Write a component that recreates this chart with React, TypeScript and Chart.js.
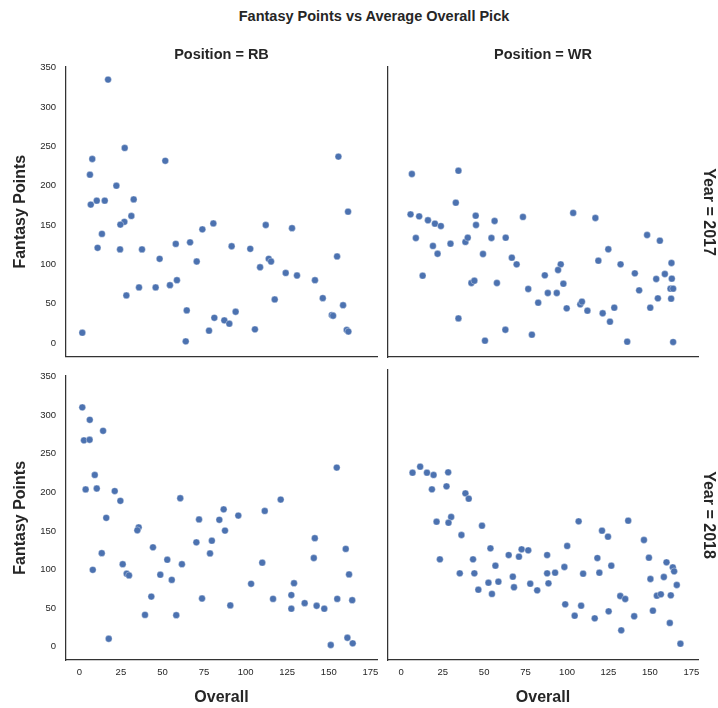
import React, { useEffect, useRef } from 'react';
import { Chart, registerables } from 'chart.js';

Chart.register(...registerables);
Chart.defaults.font.family = "'Liberation Sans', Arial, sans-serif";

// ---------- data ----------
const X_TICKS = [0, 25, 50, 75, 100, 125, 150, 175];
const Y_TICKS = [0, 50, 100, 150, 200, 250, 300, 350];

const RB_2017_OVERALL = [17.3, 27.3, 7.8, 51.7, 6.4, 22.3, 6.9, 10.5, 15.3, 32.7, 31.3, 27.1, 24.7, 80.6, 74, 13.6, 58, 66.6, 11, 24.5, 37.7, 48.3, 70.6, 58.7, 35.9, 45.9, 54.5, 28.3, 64.6, 81.2, 78, 1.8, 64,
  155.8, 161.6, 112.1, 127.9, 91.6, 102.8, 113.9, 115.3, 108.7, 155, 124.1, 130.9, 141.7, 117.5, 146.4, 158.6, 94, 87.2, 90.2, 151.8, 152.6, 105.6, 160.8, 161.8];
const RB_2017_POINTS = [335, 248, 234, 231.7, 214, 200, 176, 181, 181, 182.6, 161.5, 154, 150.5, 152, 144.5, 138.7, 126, 128, 121, 119, 119, 107, 103.6, 79.8, 70.6, 70.6, 73.5, 60.4, 41.4, 32, 15.6, 13, 2,
  237, 167, 150, 146, 123, 119.7, 107, 103.6, 96.3, 110, 89, 85.8, 79.8, 55.3, 57, 48, 39.7, 28.7, 24.5, 35.4, 34.6, 17.3, 16.5, 14.5];

const WR_2017_OVERALL = [6.4, 34.5, 32.9, 5.6, 10.8, 16.1, 20.3, 23.9, 44.9, 45.1, 56.3, 73.4, 8.8, 19.1, 21.9, 29.7, 38.7, 40.1, 54.4, 63, 49.3, 66.7, 69.6, 12.9, 42.3, 44.1, 57.7, 76.6, 82.6, 34.5, 62.8, 78.8, 50.5,
  103.7, 117.1, 148.3, 156, 124.9, 118.9, 132.3, 96.2, 94.6, 86.6, 97.8, 88.4, 93.8, 99.8, 108, 109, 112.3, 121.5, 125.9, 128.5, 140.9, 143.5, 153.8, 159, 163, 163.2, 162.4, 164, 154.8, 162.8, 150.2, 136.3, 164];
const WR_2017_POINTS = [215.2, 219.4, 178.8, 164, 161.5, 156.5, 152.2, 149.2, 162.3, 150.5, 155.6, 160.7, 134, 123.9, 114, 126.8, 129, 134.4, 134, 134.4, 113.7, 109, 100.6, 86.2, 76.9, 79.8, 76.9, 69.3, 51.9, 32, 17.6, 11.3, 3.7,
  165.8, 159.4, 137.8, 130.6, 119.7, 105.2, 100.6, 100.6, 93.4, 86.7, 76, 64.2, 64.2, 44.8, 49.9, 53.2, 41.8, 38.5, 27.8, 45.6, 89.2, 67.6, 82, 88.3, 102.3, 82.4, 69.7, 69.7, 57.5, 57, 45.6, 2.4, 2];

const RB_2018_OVERALL = [1.8, 6.3, 14.3, 2.8, 6.2, 9.3, 3.8, 10.5, 21.3, 24.7, 60.7, 16.2, 35.7, 34.9, 72, 84.2, 70.4, 79.7, 78.6, 44.3, 13.5, 52.9, 61.7, 26.1, 8.1, 28.5, 29.9, 48.7, 55.6, 43.3, 73.8, 39.5, 58.3, 17.7,
  86.8, 87.6, 95.6, 111.5, 121.1, 154.8, 141.6, 160.2, 141, 110, 162.2, 103.3, 129.1, 127.5, 90.8, 116.5, 127.5, 135.5, 142.7, 147.3, 155.1, 164.1, 161.2, 151.2, 164.4];
const RB_2018_POINTS = [310, 293.9, 279.6, 267.3, 268.1, 222.5, 203.8, 205, 201.7, 189, 192.4, 167, 154.7, 150.9, 164.9, 164.5, 135.3, 137.4, 120.9, 128.9, 121.3, 112.8, 107, 107, 99.7, 94.7, 92.5, 93.4, 86.7, 65.1, 62.6, 41.4, 41, 10.5,
  178, 150.5, 170, 175.9, 190.7, 232.1, 140.7, 126.8, 115, 109, 93.8, 81.6, 82.4, 67.1, 53.7, 62.1, 49.4, 56.6, 53.2, 49.4, 62.1, 60.4, 11.8, 2.4, 4.6];

const WR_2018_OVERALL = [6.8, 11.4, 15.5, 19.5, 28.3, 18.5, 27.3, 38.7, 40.7, 30.1, 21.3, 28.5, 48.7, 36.3, 53.8, 64.8, 72.6, 76.6, 71, 23.3, 43.3, 56.8, 35.3, 44.1, 67.3, 52.6, 58.6, 68, 77.8, 46.5, 54.7, 82,
  107, 136.9, 121.1, 124.7, 146.4, 100.1, 88, 118.3, 149.4, 160, 163.8, 164.6, 98.4, 126.7, 88, 92.8, 109.7, 119.5, 150.3, 158.4, 166.2, 88.8, 132.1, 135.1, 154.2, 156.6, 162.6, 98.9, 108.5, 104.6, 116.7, 125.1, 140.5, 151.8, 132.7, 162, 168.4];
const WR_2018_POINTS = [220.7, 228.3, 220.7, 217.8, 221.2, 199.6, 203.4, 194.5, 187.7, 164.5, 158.5, 157.2, 153.4, 141.6, 124.7, 116.2, 123.5, 122.2, 114.1, 110.8, 110.8, 102.7, 93, 93, 88.7, 81.1, 82.4, 75.3, 79.8, 72.2, 66.8, 71.4,
  159, 159.8, 147.1, 139.5, 135.3, 127.7, 116.2, 112.4, 112.8, 107, 100.6, 95.5, 101, 102.7, 93, 93.8, 92.5, 93.8, 85.8, 88.3, 78.2, 80.3, 64.2, 60.4, 64.6, 66.4, 65.1, 53.7, 51.9, 39.2, 35.9, 44.8, 38.5, 45.6, 20.7, 30, 3.7];

// ---------- style ----------
const X_MIN = -8;
const X_MAX = 179;
const Y_MIN = -17;
const Y_MAX = 351;
const TEXT = '#262626';
const SPINE = '#333333';
const DOT = '#4c72b0';

type PanelProps = {
  left: number;
  top: number;
  width: number;
  height: number;
  xs: number[];
  ys: number[];
  colTitle?: string;
  rowTitle?: string;
  leftCol: boolean;
  bottomRow: boolean;
};

function Panel(p: PanelProps) {
  const ref = useRef<HTMLCanvasElement>(null);
  useEffect(() => {
    const data = p.xs.map((x, i) => ({ x, y: p.ys[i] }));
    const chart = new Chart(ref.current as HTMLCanvasElement, {
      type: 'scatter',
      data: {
        datasets: [
          {
            data,
            backgroundColor: DOT,
            borderColor: 'rgba(255,255,255,0.7)',
            borderWidth: 0.5,
            pointRadius: 3.4,
            pointHoverRadius: 3.4,
          },
        ],
      },
      options: {
        animation: false,
        responsive: false,
        maintainAspectRatio: false,
        devicePixelRatio: 1,
        events: [],
        layout: {
          padding: {
            left: 0,
            top: p.colTitle ? 0 : 10,
            right: p.rowTitle ? 0 : 13,
            bottom: 0,
          },
        },
        plugins: {
          legend: { display: false },
          tooltip: { enabled: false },
          title: p.colTitle
            ? {
                display: true,
                text: p.colTitle,
                position: 'top',
                fullSize: false,
                color: TEXT,
                font: { size: 14.5, weight: 'bold' },
                padding: { top: 10.3, bottom: 3.3 },
              }
            : { display: false },
          subtitle: p.rowTitle
            ? {
                display: true,
                text: p.rowTitle,
                position: 'right',
                fullSize: false,
                color: TEXT,
                font: { size: 16, weight: 'bold' },
                padding: { top: 0.4, bottom: 0.4 },
              }
            : { display: false },
        },
        scales: {
          x: {
            type: 'linear',
            position: 'bottom',
            min: X_MIN,
            max: X_MAX,
            afterBuildTicks: (s: any) => {
              s.ticks = X_TICKS.map((v) => ({ value: v }));
            },
            afterFit: (s: any) => {
              s.height = p.bottomRow ? 48 : 15;
            },
            grid: { display: false, drawTicks: false },
            border: { display: true, color: SPINE, width: 1.25 },
            ticks: {
              display: p.bottomRow,
              padding: 6.3,
              color: TEXT,
              font: { size: 9.5 },
              maxRotation: 0,
            },
            title: {
              display: p.bottomRow,
              text: 'Overall',
              color: TEXT,
              font: { size: 16, weight: 'bold' },
              padding: { top: 0, bottom: 0.4 },
            },
          },
          y: {
            type: 'linear',
            position: 'left',
            min: Y_MIN,
            max: Y_MAX,
            afterBuildTicks: (s: any) => {
              s.ticks = Y_TICKS.map((v) => ({ value: v }));
            },
            afterFit: (s: any) => {
              s.width = p.leftCol ? 66 : 10;
            },
            grid: { display: false, drawTicks: false },
            border: { display: true, color: SPINE, width: 1.25 },
            ticks: {
              display: p.leftCol,
              padding: 10,
              color: TEXT,
              font: { size: 9.5 },
            },
            title: {
              display: p.leftCol,
              text: 'Fantasy Points',
              color: TEXT,
              font: { size: 16, weight: 'bold' },
              padding: { top: 11.4, bottom: 0 },
            },
          },
        },
      },
    } as any);
    return () => chart.destroy();
  }, []);
  return (
    <canvas
      ref={ref}
      width={p.width}
      height={p.height}
      style={{ position: 'absolute', left: p.left, top: p.top, width: p.width, height: p.height }}
    />
  );
}

export default function App() {
  return (
    <div
      style={{
        position: 'absolute',
        left: 0,
        top: 0,
        width: 718,
        height: 708,
        overflow: 'hidden',
        background: '#ffffff',
      }}
    >
      <div
        style={{
          position: 'absolute',
          left: 174,
          top: 8.3,
          width: 400,
          textAlign: 'center',
          fontFamily: "'Liberation Sans', Arial, sans-serif",
          fontWeight: 'bold',
          fontSize: '14.5px',
          lineHeight: '17.4px',
          color: TEXT,
        }}
      >
        Fantasy Points vs Average Overall Pick
      </div>
      <Panel left={0} top={36} width={390} height={336} xs={RB_2017_OVERALL} ys={RB_2017_POINTS} colTitle="Position = RB" leftCol bottomRow={false} />
      <Panel left={378} top={36} width={340} height={336} xs={WR_2017_OVERALL} ys={WR_2017_POINTS} colTitle="Position = WR" rowTitle="Year = 2017" leftCol={false} bottomRow={false} />
      <Panel left={0} top={360} width={390} height={348} xs={RB_2018_OVERALL} ys={RB_2018_POINTS} leftCol bottomRow />
      <Panel left={378} top={360} width={340} height={348} xs={WR_2018_OVERALL} ys={WR_2018_POINTS} rowTitle="Year = 2018" leftCol={false} bottomRow />
    </div>
  );
}
